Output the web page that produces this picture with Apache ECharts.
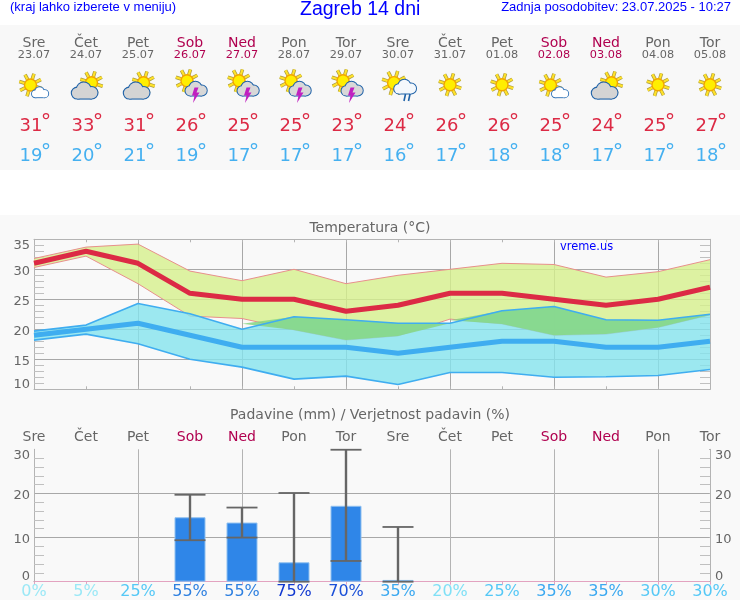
<!DOCTYPE html>
<html><head><meta charset="utf-8">
<style>html,body{margin:0;padding:0;background:#fff}#c{width:740px;height:600px}</style>
<script src="https://cdn.jsdelivr.net/npm/echarts@6/dist/echarts.min.js"></script>
</head><body><div id="c"></div>
<script>
const days = ['Sre','Čet','Pet','Sob','Ned','Pon','Tor','Sre','Čet','Pet','Sob','Ned','Pon','Tor'];
const dates = ['23.07','24.07','25.07','26.07','27.07','28.07','29.07','30.07','31.07','01.08','02.08','03.08','04.08','05.08'];
const icons = ['sunCloud','cloudSun','cloudSun','storm','storm','storm','storm','rain','sun','sun','sunCloud','cloudSun','sun','sun'];
const highs = [31,33,31,26,25,25,23,24,26,26,25,24,25,27];
const lows = [19,20,21,19,17,17,17,16,17,18,18,17,17,18];
const highUpper = [31.8,33.7,34.2,29.7,28.1,30,27.6,29,30,31,30.8,28.7,29.6,31.6];
const highLower = [30.3,32.2,27.6,22.2,21.8,19.9,18.2,18.9,21.7,20.9,19,19.2,20.3,22.4];
const lowUpper = [19.7,20.7,24.3,22.6,20,22.1,21.6,21,21,23.1,23.8,21.6,21.5,22.5];
const lowLower = [18.2,19.2,17.6,15,13.7,11.7,12.2,10.8,12.8,12.8,12,12.1,12.3,13.3];
const rain = [null,null,null,14.6,13.4,4.4,17.2,0.4,null,null,null,null,null,null];
const rainHigh = [null,null,null,19.7,16.8,20.1,29.9,12.4,null,null,null,null,null,null];
const rainLow = [null,null,null,9.4,10,0,4.7,0,null,null,null,null,null,null];
const chance = [0,5,25,55,55,75,70,35,20,25,35,35,30,30];

const weekendColor = '#b0004f', grayText = '#666666', redC = '#dc2a45', blueC = '#3fadf0';
const dayColor = i => (days[i] === 'Sob' || days[i] === 'Ned') ? weekendColor : grayText;
function chanceColor(p){
  if (p <= 5) return '#9be8f6';
  if (p <= 20) return '#80e0f6';
  if (p <= 30) return '#55c8f6';
  if (p <= 35) return '#3aa8f0';
  if (p <= 55) return '#2f80e0';
  if (p <= 70) return '#1a50d8';
  return '#1038d0';
}
const F = 'DejaVu Sans';

function sun(cx, cy, r){
  const out = [];
  for (let k = 0; k < 8; k++){
    const a = k * Math.PI / 4 + 0.3, x1 = cx + Math.cos(a) * r, y1 = cy + Math.sin(a) * r,
          x2 = cx + Math.cos(a) * (r * 1.95), y2 = cy + Math.sin(a) * (r * 1.95);
    out.push({type:'line', shape:{x1,y1,x2,y2}, style:{stroke:'#a89a40', lineWidth:3.6}});
    out.push({type:'line', shape:{x1,y1,x2,y2}, style:{stroke:'#ffe22a', lineWidth:2.2}});
  }
  out.push({type:'circle', shape:{cx,cy,r}, style:{fill:'#ffee00', stroke:'#f2a400', lineWidth:1.4}});
  return out;
}
function cloud(cx, cy, w, h, fill, stroke, lw){
  const parts = [
    [cx - w * 0.29, cy + h * 0.14, h * 0.36],
    [cx - w * 0.03, cy - h * 0.1, h * 0.46],
    [cx + w * 0.29, cy + h * 0.12, h * 0.38]
  ];
  const rect = {type:'rect', shape:{x:cx - w * 0.29, y:cy + h * 0.1, width:w * 0.58, height:h * 0.4}};
  const out = [];
  parts.forEach(p => out.push({type:'circle', shape:{cx:p[0], cy:p[1], r:p[2]}, style:{fill, stroke, lineWidth:lw}}));
  out.push({type:'line', shape:{x1:cx - w * 0.29, y1:cy + h * 0.5, x2:cx + w * 0.29, y2:cy + h * 0.5}, style:{stroke, lineWidth:lw}});
  parts.forEach(p => out.push({type:'circle', shape:{cx:p[0], cy:p[1], r:p[2]}, style:{fill}}));
  out.push(Object.assign(rect, {style:{fill}}));
  return out;
}
function icon(kind, x){
  if (kind === 'sun') return sun(x, 84.7, 6);
  if (kind === 'sunCloud') return [...sun(x - 3.5, 85, 6), ...cloud(x + 6, 92.5, 16, 9.5, '#ffffff', '#2b6fb5', 1.8)];
  if (kind === 'cloudSun') return [...sun(x + 5.5, 82.7, 6), ...cloud(x - 1.5, 91, 25, 15, '#d4d4d4', '#1f62a8', 2.2)];
  if (kind === 'storm') return [...sun(x - 3, 80.7, 6), ...cloud(x + 6, 89, 20, 13, '#d8d8d8', '#1f62a8', 2),
    {type:'polygon', shape:{points:[[x+4.5,87.5],[x+8.5,87.5],[x+6.5,92.5],[x+9.5,92.5],[x+3,103],[x+4.5,95.5],[x+2,95.5]]}, style:{fill:'#c020c0'}}];
  return [...sun(x - 4, 83, 6.4), ...cloud(x + 7, 87, 21, 13, '#f4f8fc', '#1f62a8', 2),
    {type:'line', shape:{x1:x+7.5,y1:94,x2:x+6,y2:101}, style:{stroke:'#1f62a8',lineWidth:1.6}},
    {type:'line', shape:{x1:x+12,y1:94,x2:x+10.5,y2:101}, style:{stroke:'#1f62a8',lineWidth:1.6}}];
}
function txt(text, x, y, size, fill, align){
  return {type:'text', style:{text, x, y, font:size + 'px "' + F + '"', fill, align:align || 'center', verticalAlign:'middle'}};
}
function headerItem(params, api){
  const i = api.value(0), x = api.coord([i, 0])[0];
  return {type:'group', children:[
    txt(days[i], x, 43, 14, dayColor(i)),
    txt(dates[i], x, 55.5, 11.3, dayColor(i)),
    ...icon(icons[i], x),
    txt(String(highs[i]), x - 3, 126, 18, redC),
    txt('°', x + 12, 124, 21, redC),
    txt(String(lows[i]), x - 3, 156, 18, '#45b0f0'),
    txt('°', x + 12, 154, 21, '#45b0f0')
  ]};
}
function band(upper, lower, fill){
  return function(params, api){
    const pts = upper.map((v, i) => api.coord([i, v]));
    for (let i = lower.length - 1; i >= 0; i--) pts.push(api.coord([i, lower[i]]));
    return {type:'polygon', shape:{points:pts}, style:{fill}};
  };
}
// Where the warm and the cold band overlap the reference shows green: clip both bands against each other.
function overlap(uA, lA, uB, lB, fill){
  return function(params, api){
    const children = [];
    for (let i = 0; i < uA.length - 1; i++){
      const cross = [0, 1];
      [[uA,uB],[lA,lB],[uA,lB],[lA,uB]].forEach(([p, q]) => {
        const d0 = p[i] - q[i], d1 = p[i+1] - q[i+1];
        if (d0 * d1 < 0) cross.push(d0 / (d0 - d1));
      });
      cross.sort((a, b) => a - b);
      const at = (arr, t) => arr[i] + (arr[i+1] - arr[i]) * t;
      for (let k = 0; k < cross.length - 1; k++){
        const t0 = cross[k], t1 = cross[k+1], tm = (t0 + t1) / 2;
        if (Math.min(at(uA,tm), at(uB,tm)) <= Math.max(at(lA,tm), at(lB,tm))) continue;
        const top = t => Math.min(at(uA,t), at(uB,t)), bot = t => Math.max(at(lA,t), at(lB,t));
        children.push({type:'polygon', shape:{points:[
          api.coord([i + t0, top(t0)]), api.coord([i + t1, top(t1)]),
          api.coord([i + t1, bot(t1)]), api.coord([i + t0, bot(t0)])
        ]}, style:{fill}});
      }
    }
    return {type:'group', children};
  };
}
function whisker(params, api){
  const i = api.value(0), hi = api.coord([i, api.value(1)]), lo = api.coord([i, api.value(2)]), cap = 15.5;
  return {type:'group', children:[
    {type:'line', shape:{x1:hi[0], y1:hi[1], x2:lo[0], y2:lo[1]}, style:{stroke:'#666666', lineWidth:2.4}},
    {type:'line', shape:{x1:hi[0]-cap, y1:hi[1], x2:hi[0]+cap, y2:hi[1]}, style:{stroke:'#666666', lineWidth:1.8}},
    {type:'line', shape:{x1:lo[0]-cap, y1:lo[1], x2:lo[0]+cap, y2:lo[1]}, style:{stroke:'#666666', lineWidth:1.8}}
  ]};
}
const thin = (data, color, width, z) => ({type:'line', xAxisIndex:1, yAxisIndex:1, data, showSymbol:false, silent:true, z,
  lineStyle:{color, width}, itemStyle:{color}});

function yAxis(gridIndex, position, min, max, interval, labels){
  return {type:'value', gridIndex, position, min, max, interval,
    axisLine:{show:true, lineStyle:{color:'#b4b4b4', width:1}},
    axisTick:{show:true, inside:true, length:1, lineStyle:{color:'#b4b4b4'}},
    minorTick:{show:true, splitNumber:5, length:10, lineStyle:{color:'#c0c0c0', width:1}},
    splitLine:{show:position === 'left', showMaxLine:false, showMinLine:false, lineStyle:{color:'#a8a8a8', width:1}},
    axisLabel:{show:labels, margin:position === 'left' ? 4 : 5, color:grayText, fontFamily:F, fontSize:13,
      formatter:v => v === max ? '{t|' + v + '}' : v === min ? '{b|' + v + '}' : '{m|' + v + '}',
      rich:{t:{padding:[12,0,0,0], fontFamily:F, fontSize:13, color:grayText},
            m:{padding:[4,0,0,0], fontFamily:F, fontSize:13, color:grayText},
            b:{padding:[0,0,10,0], fontFamily:F, fontSize:13, color:grayText}}}
  };
}
const xBase = (gridIndex, position) => ({type:'category', gridIndex, position, data:days, boundaryGap:false,
  axisLine:{show:true, lineStyle:{color:'#b4b4b4', width:1}},
  axisTick:{show:true, inside:true, length:3, interval:0, lineStyle:{color:'#b4b4b4'}},
  axisLabel:{show:false}, splitLine:{show:false}});

const option = {
  backgroundColor:'#ffffff', animation:false,
  graphic:{elements:[
    {type:'rect', z:-10, shape:{x:0,y:25,width:740,height:145}, style:{fill:'#f8f8f8'}},
    {type:'rect', z:-10, shape:{x:0,y:215,width:740,height:385}, style:{fill:'#f9f9f9'}}
  ]},
  title:[
    {text:'(kraj lahko izberete v meniju)', left:10, top:1, textStyle:{fontFamily:'Liberation Sans', fontSize:13, fontWeight:'normal', color:'#0000ff'}},
    {text:'Zagreb 14 dni', left:300, top:0, textStyle:{fontFamily:'Liberation Sans', fontSize:19.5, fontWeight:'normal', color:'#0000ff'}},
    {text:'Zadnja posodobitev: 23.07.2025 - 10:27', right:9, top:1, textStyle:{fontFamily:'Liberation Sans', fontSize:13, fontWeight:'normal', color:'#0000ff'}},
    {text:'Temperatura (°C)', left:'center', top:221, textStyle:{fontFamily:F, fontSize:14, fontWeight:'normal', color:grayText}},
    {text:'vreme.us', left:560, top:242, textStyle:{fontFamily:F, fontSize:11.4, fontWeight:'normal', color:'#0000ff'}},
    {text:'Padavine (mm) / Verjetnost padavin (%)', left:'center', top:408, textStyle:{fontFamily:F, fontSize:14, fontWeight:'normal', color:grayText}}
  ].map(t => Object.assign({padding:0}, t)),
  grid:[
    {left:34, width:676, top:25, height:145},
    {left:34, width:676, top:239.3, height:150},
    {left:34, width:676, top:449.3, height:132.4}
  ],
  xAxis:[
    {type:'category', gridIndex:0, data:days, boundaryGap:false, show:false},
    Object.assign(xBase(1,'bottom'), {splitLine:{show:true, interval:1, lineStyle:{color:'#a8a8a8'}}}),
    xBase(1,'top'),
    Object.assign(xBase(2,'bottom'), {
      splitLine:{show:true, interval:1, lineStyle:{color:'#b4b4b4'}}, axisTick:{show:false},
      axisLabel:{show:true, interval:0, margin:2, fontFamily:F, fontSize:16, hideOverlap:false,
        formatter:(v, i) => chance[i] + '%', color:(v, i) => chanceColor(chance[i])}
    }),
    Object.assign(xBase(2,'top'), {
      axisLine:{show:true, lineStyle:{color:'#e3a3c0', width:1}},
      axisTick:{show:true, inside:true, length:3, interval:0, lineStyle:{color:'#e3a3c0'}},
      axisLabel:{show:true, interval:0, margin:5, fontFamily:F, fontSize:14,
        color:(v, i) => dayColor(i)}
    })
  ],
  yAxis:[
    {type:'value', gridIndex:0, min:0, max:1, show:false},
    yAxis(1,'left',10,35,5,true),
    yAxis(1,'right',10,35,5,false),
    yAxis(2,'left',0,30,10,true),
    yAxis(2,'right',0,30,10,true)
  ],
  series:[
    {type:'custom', xAxisIndex:0, yAxisIndex:0, data:days.map((d,i) => [i, 0]), renderItem:headerItem, silent:true, clip:false},
    {type:'custom', xAxisIndex:1, yAxisIndex:1, data:[[0,20]], renderItem:band(highUpper, highLower, 'rgba(214,240,140,0.8)'), silent:true, z:2},
    thin(highUpper, '#e8908c', 1, 3),
    thin(highLower, '#e8908c', 1, 3),
    {type:'custom', xAxisIndex:1, yAxisIndex:1, data:[[0,20]], renderItem:band(lowUpper, lowLower, 'rgba(133,228,238,0.8)'), silent:true, z:4},
    {type:'custom', xAxisIndex:1, yAxisIndex:1, data:[[0,20]], renderItem:overlap(highUpper, highLower, lowUpper, lowLower, 'rgba(134,214,130,0.85)'), silent:true, z:4.5},
    thin(lowUpper, blueC, 1.6, 5),
    thin(lowLower, blueC, 1.6, 5),
    thin(lows, blueC, 5, 6),
    thin(highs, redC, 5, 7),
    {type:'bar', xAxisIndex:3, yAxisIndex:3, data:rain, barWidth:31, silent:true, z:3,
      itemStyle:{color:'#2f86e8', borderColor:'#8fc0f0', borderWidth:1}},
    {type:'custom', xAxisIndex:3, yAxisIndex:3, silent:true, z:4, clip:false,
      data:rain.map((v,i) => v === null ? null : [i, rainHigh[i], rainLow[i]]).filter(Boolean),
      renderItem:whisker}
  ]
};
echarts.init(document.getElementById('c'), null, {renderer:'canvas'}).setOption(option);
</script></body></html>
